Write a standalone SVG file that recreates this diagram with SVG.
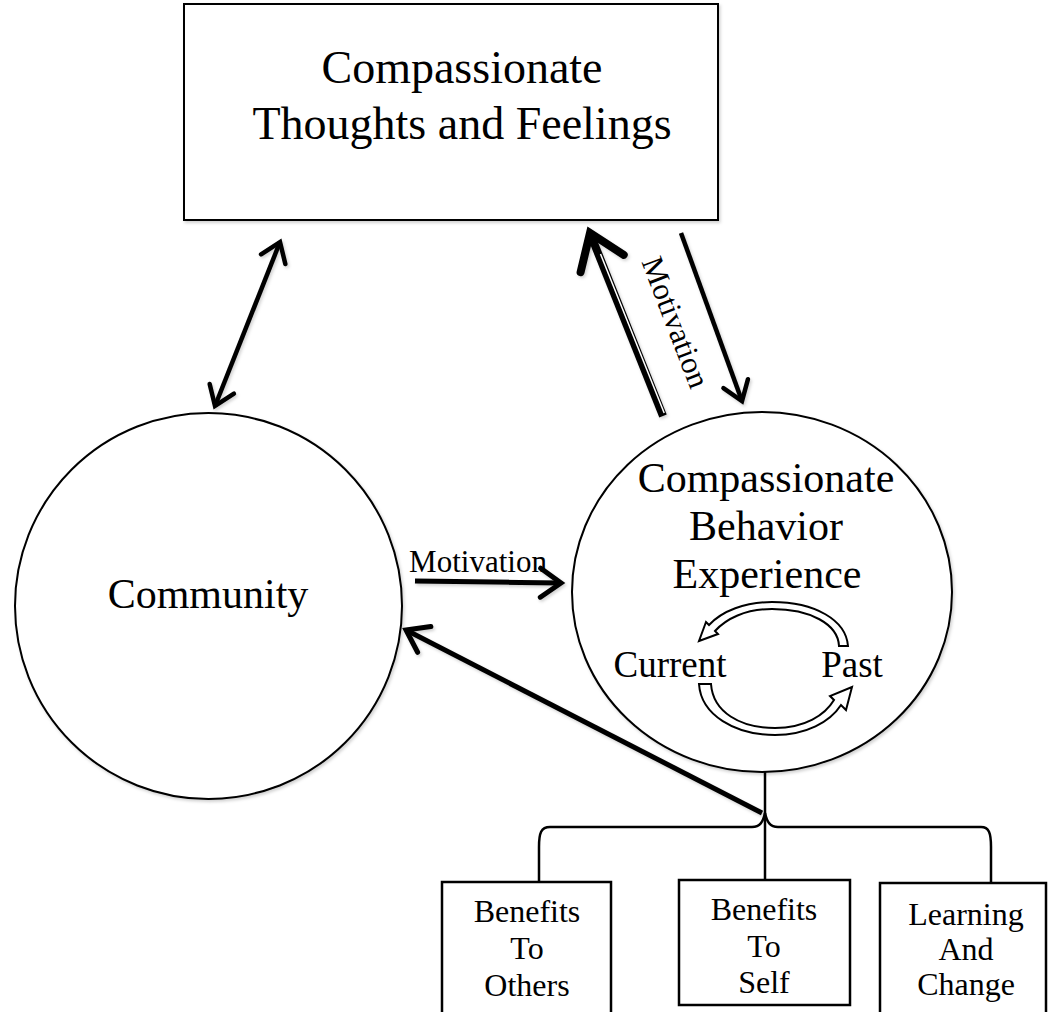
<svg xmlns="http://www.w3.org/2000/svg" width="1049" height="1012" viewBox="0 0 1049 1012">
  <defs>
    <filter id="sh" filterUnits="userSpaceOnUse" x="0" y="0" width="1049" height="1012">
      <feDropShadow dx="1.5" dy="2" stdDeviation="1.5" flood-color="#000" flood-opacity="0.18"/>
    </filter>
    <marker id="chev" viewBox="-6 -4 7 8" refX="0" refY="0" markerWidth="7" markerHeight="8" markerUnits="strokeWidth" orient="auto-start-reverse" overflow="visible">
      <path d="M-4.1,-2.9 L0,0 L-4.1,2.9" fill="none" stroke="#000" stroke-width="1" stroke-linecap="round" stroke-linejoin="miter"/>
    </marker>
    <style>
      .shape { fill: #fff; stroke: #000; stroke-width: 2; filter: url(#sh); }
      .box { fill: #fff; stroke: #000; stroke-width: 2.5; }
      .t { font-family: "Liberation Serif", "Times New Roman", serif; fill: #000; text-anchor: middle; }
      .arr { fill: none; stroke: #000; stroke-linecap: butt; filter: url(#sh); }
      .brk { fill: none; stroke: #000; stroke-width: 2.5; }
      .cyc { fill: #fff; stroke: #000; stroke-width: 2; stroke-linejoin: miter; }
    </style>
  </defs>

  <g id="node-thoughts">
    <rect class="shape" x="184" y="4" width="534" height="216"/>
    <text class="t" x="462" y="83" font-size="46">Compassionate</text>
    <text class="t" x="462" y="139" font-size="46">Thoughts and Feelings</text>
  </g>

  <g id="node-community">
    <ellipse class="shape" cx="208.5" cy="606" rx="193.5" ry="193"/>
    <text class="t" x="208" y="608" font-size="42">Community</text>
  </g>

  <g id="node-behavior">
    <ellipse class="shape" cx="762" cy="592" rx="190" ry="180"/>
    <text class="t" x="766" y="492" font-size="42">Compassionate</text>
    <text class="t" x="766" y="540" font-size="42">Behavior</text>
    <text class="t" x="767" y="588" font-size="42">Experience</text>
    <text class="t" x="670" y="677" font-size="37">Current</text>
    <text class="t" x="852" y="677" font-size="37">Past</text>
    <path class="cyc" d="M848 646 L839 646 C838 624 810 609 772 609 C745 609 726 619 715 631 L718 634 L699 641 L706 622 L709 625 C722 611 745 602 772 602 C815 602 846 620 848 646 Z"/>
    <path class="cyc" d="M699 684 L711 684 C713 712 740 728 775 728 C805 728 825 715 834 700 L830 696 L852 687 L846 710 L841 705 C830 722 806 735 775 735 C735 735 701 715 699 684 Z"/>
  </g>

  <g id="node-others">
    <rect class="box" x="442" y="882" width="169" height="140"/>
    <text class="t" x="527" y="922" font-size="32">Benefits</text>
    <text class="t" x="527" y="959" font-size="32">To</text>
    <text class="t" x="527" y="996" font-size="32">Others</text>
  </g>

  <g id="node-self">
    <rect class="box" x="679" y="880" width="171" height="125"/>
    <text class="t" x="764" y="920" font-size="32">Benefits</text>
    <text class="t" x="764" y="957" font-size="32">To</text>
    <text class="t" x="764" y="993" font-size="32">Self</text>
  </g>

  <g id="node-learning">
    <rect class="box" x="880" y="883" width="166" height="140"/>
    <text class="t" x="966" y="925" font-size="32">Learning</text>
    <text class="t" x="966" y="960" font-size="32">And</text>
    <text class="t" x="966" y="995" font-size="32">Change</text>
  </g>

  <g id="connectors">
    <line class="arr" x1="280" y1="242" x2="215" y2="406" stroke-width="4.5" marker-start="url(#chev)" marker-end="url(#chev)"/>
    <line class="arr" x1="663" y1="416" x2="590" y2="233" stroke-width="8" marker-end="url(#chev)"/>
    <line x1="664.2" y1="413" x2="600.5" y2="254" stroke="#fff" stroke-width="1.5"/>
    <line class="arr" x1="681" y1="233" x2="742" y2="401" stroke-width="4.5" marker-end="url(#chev)"/>
    <text class="t" font-size="31" transform="translate(666,326) rotate(69)">Motivation</text>
    <line class="arr" x1="415" y1="581" x2="561" y2="583" stroke-width="5" marker-end="url(#chev)"/>
    <text class="t" x="478" y="572" font-size="31">Motivation</text>
    <line class="arr" x1="762" y1="813" x2="406" y2="630" stroke-width="5" marker-end="url(#chev)"/>
    <line class="brk" x1="765" y1="772" x2="765" y2="880"/>
    <path class="brk" d="M539 882 L539 847 C539 833 541 827 550 827 L752 827 C760 827 763 822 765 813"/>
    <path class="brk" d="M765 813 C767 822 770 827 778 827 L981 827 C989 827 991 833 991 847 L991 883"/>
  </g>
</svg>
